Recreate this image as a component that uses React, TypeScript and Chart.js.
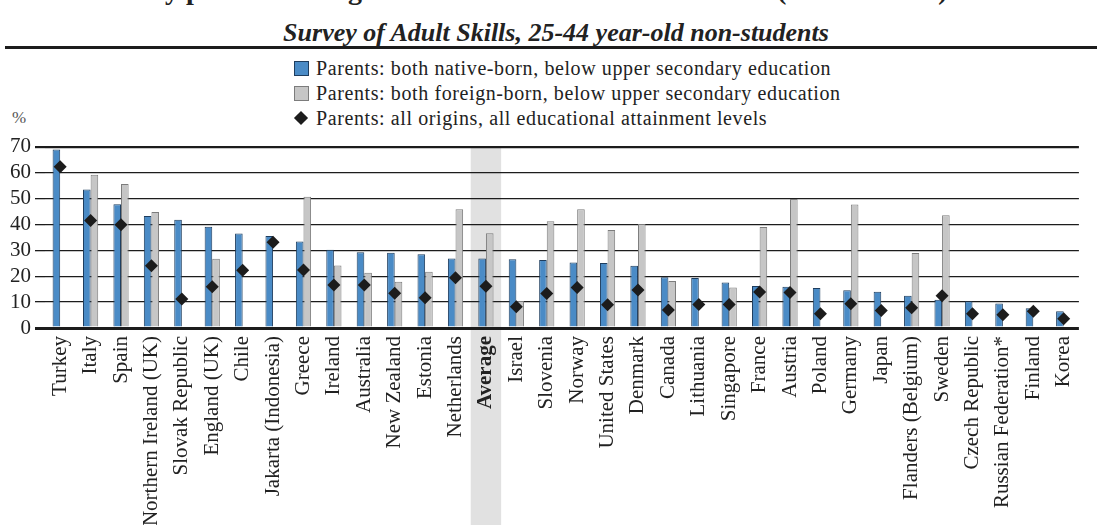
import React, { useEffect, useRef } from 'react';
import { Chart, registerables } from 'chart.js';

Chart.register(...registerables);

const categories = [
  'Turkey', 'Italy', 'Spain', 'Northern Ireland (UK)', 'Slovak Republic', 'England (UK)', 'Chile',
  'Jakarta (Indonesia)', 'Greece', 'Ireland', 'Australia', 'New Zealand', 'Estonia', 'Netherlands',
  'Average', 'Israel', 'Slovenia', 'Norway', 'United States', 'Denmark', 'Canada', 'Lithuania',
  'Singapore', 'France', 'Austria', 'Poland', 'Germany', 'Japan', 'Flanders (Belgium)', 'Sweden',
  'Czech Republic', 'Russian Federation*', 'Finland', 'Korea',
];

const nativeBorn = [
  68.9, 53.4, 47.8, 43.2, 41.8, 39.1, 36.5, 35.5, 33.4, 30.2, 29.2, 29.0, 28.5, 26.8,
  26.8, 26.5, 26.2, 25.3, 25.1, 24.0, 19.6, 19.3, 17.6, 16.2, 15.9, 15.4, 14.6, 14.0,
  12.4, 10.9, 10.3, 9.5, 7.6, 6.5,
];

const foreignBorn = [
  null, 59.1, 55.6, 44.8, null, 26.7, null, null, 50.6, 24.1, 21.3, 17.8, 21.7, 45.8,
  36.6, 10.4, 41.2, 45.8, 37.8, 40.1, 18.1, null, 15.6, 39.0, 49.8, null, 47.7, null,
  28.9, 43.5, null, null, null, null,
];

const allOrigins = [
  62.2, 41.5, 39.8, 24.0, 11.2, 15.9, 22.3, 33.1, 22.4, 16.6, 16.6, 13.4, 11.7, 19.4,
  16.1, 8.2, 13.3, 15.6, 9.0, 14.7, 6.9, 9.1, 9.1, 13.9, 13.7, 5.5, 9.4, 6.8,
  7.8, 12.4, 5.5, 5.1, 6.5, 3.6,
];

const seriesLabels = [
  'Parents: both native-born, below upper secondary education',
  'Parents: both foreign-born, below upper secondary education',
  'Parents: all origins, all educational attainment levels',
];

const yTicks = [0, 10, 20, 30, 40, 50, 60, 70];

const titleLine = "by parents' background and educational attainment (2012 or 2015)";
const subtitle = 'Survey of Adult Skills, 25-44 year-old non-students';
const unitLabel = '%';

const SERIF = '"Liberation Serif", "DejaVu Serif", serif';
const BLUE = '#4a8bc6';
const BLUE_BORDER = '#1e3d5e';
const GREY = '#c6c6c6';
const GREY_BORDER = '#7c7c7c';
const DARK = '#1c1c1c';
const AVG_INDEX = categories.indexOf('Average');

const bandPlugin = {
  id: 'avgBand',
  beforeDraw(chart: any) {
    const x = chart.scales.x;
    if (!x || AVG_INDEX < 0) return;
    const cx = x.getPixelForValue(AVG_INDEX);
    const w = x.width / categories.length;
    const ctx = chart.ctx;
    ctx.save();
    ctx.fillStyle = '#e1e1e1';
    ctx.fillRect(cx - w / 2, chart.chartArea.top, w, chart.height - chart.chartArea.top);
    ctx.restore();
  },
};

export default function App() {
  const canvasRef = useRef<HTMLCanvasElement | null>(null);

  useEffect(() => {
    if (!canvasRef.current) return;
    const chart = new Chart(canvasRef.current, {
      type: 'bar',
      data: {
        labels: categories,
        datasets: [
          {
            type: 'line',
            label: seriesLabels[2],
            data: allOrigins,
            showLine: false,
            pointStyle: 'rectRot',
            pointRadius: 6.5,
            pointBackgroundColor: DARK,
            pointBorderColor: DARK,
            pointBorderWidth: 0,
            order: 0,
          } as any,
          {
            label: seriesLabels[0],
            data: nativeBorn,
            backgroundColor: BLUE,
            borderColor: BLUE_BORDER,
            borderWidth: 1,
            categoryPercentage: 0.5,
            barPercentage: 1,
            order: 1,
          },
          {
            label: seriesLabels[1],
            data: foreignBorn,
            backgroundColor: GREY,
            borderColor: GREY_BORDER,
            borderWidth: 1,
            categoryPercentage: 0.5,
            barPercentage: 1,
            order: 1,
          },
        ],
      },
      options: {
        responsive: false,
        animation: false,
        devicePixelRatio: 1,
        layout: { padding: { top: 12, right: 0, left: 0, bottom: 0 } },
        plugins: {
          legend: { display: false },
          tooltip: { enabled: false },
          title: { display: false },
        },
        scales: {
          x: {
            grid: { display: false, drawTicks: false },
            border: { display: false },
            ticks: {
              autoSkip: false,
              maxRotation: 90,
              minRotation: 90,
              padding: 8,
              color: '#222',
              font: (ctx: any) => ({
                family: SERIF,
                size: 21,
                weight: ctx.index === AVG_INDEX ? 'bold' : 'normal',
              }),
            },
            afterFit: (scale: any) => {
              scale.height = 197;
            },
          },
          y: {
            min: 0,
            max: 70,
            afterBuildTicks: (scale: any) => {
              scale.ticks = yTicks.map((v) => ({ value: v }));
            },
            grid: {
              color: DARK,
              tickLength: 10,
              drawTicks: true,
              lineWidth: (ctx: any) =>
                ctx.tick && ctx.tick.value === 0 ? 3 : ctx.tick && ctx.tick.value === 70 ? 2.2 : 1.3,
            },
            border: { display: false },
            ticks: {
              autoSkip: false,
              stepSize: 10,
              padding: 4,
              color: '#222',
              font: { family: SERIF, size: 21 },
            },
            afterFit: (scale: any) => {
              scale.width = 45;
            },
          },
        },
      },
      plugins: [bandPlugin],
    });
    return () => chart.destroy();
  }, []);

  const legendRow = (idx: number, marker: React.ReactNode, top: number) => (
    <div
      key={idx}
      style={{
        position: 'absolute',
        left: 292,
        top,
        height: 24,
        display: 'flex',
        alignItems: 'center',
        whiteSpace: 'nowrap',
      }}
    >
      <div style={{ width: 18, height: 18, display: 'flex', alignItems: 'center', justifyContent: 'center' }}>
        {marker}
      </div>
      <span
        style={{ marginLeft: 6, fontFamily: SERIF, fontSize: 20, letterSpacing: '0.6px', color: '#222' }}
      >
        {seriesLabels[idx]}
      </span>
    </div>
  );

  return (
    <div
      style={{
        position: 'absolute',
        left: 0,
        top: 0,
        width: 1097,
        height: 525,
        overflow: 'hidden',
        background: '#fff',
      }}
    >
      <div
        style={{
          position: 'absolute',
          left: 0,
          width: 1097,
          top: -24,
          textAlign: 'center',
          fontFamily: SERIF,
          fontWeight: 'bold',
          fontSize: 28,
          lineHeight: '28px',
          color: '#222',
          whiteSpace: 'nowrap',
        }}
      >
        {titleLine}
      </div>
      <div
        style={{
          position: 'absolute',
          left: 0,
          width: 1112,
          top: 19,
          textAlign: 'center',
          fontFamily: SERIF,
          fontWeight: 'bold',
          fontStyle: 'italic',
          fontSize: 26,
          lineHeight: '28px',
          color: '#222',
          whiteSpace: 'nowrap',
        }}
      >
        {subtitle}
      </div>
      <div style={{ position: 'absolute', left: 5, right: 0, top: 46, height: 3, background: '#1c1c1c' }} />
      {legendRow(
        0,
        <div style={{ width: 13, height: 13, background: BLUE, border: `1px solid ${BLUE_BORDER}` }} />,
        56,
      )}
      {legendRow(
        1,
        <div style={{ width: 13, height: 13, background: GREY, border: `1px solid ${GREY_BORDER}` }} />,
        81,
      )}
      {legendRow(
        2,
        <div style={{ width: 10, height: 10, background: DARK, transform: 'rotate(45deg)' }} />,
        106,
      )}
      <div
        style={{
          position: 'absolute',
          left: 12,
          top: 108,
          fontFamily: SERIF,
          fontSize: 17,
          color: '#555',
        }}
      >
        {unitLabel}
      </div>
      <canvas
        ref={canvasRef}
        width={1097}
        height={395}
        style={{ position: 'absolute', left: 0, top: 130, width: 1097, height: 395 }}
      />
    </div>
  );
}
